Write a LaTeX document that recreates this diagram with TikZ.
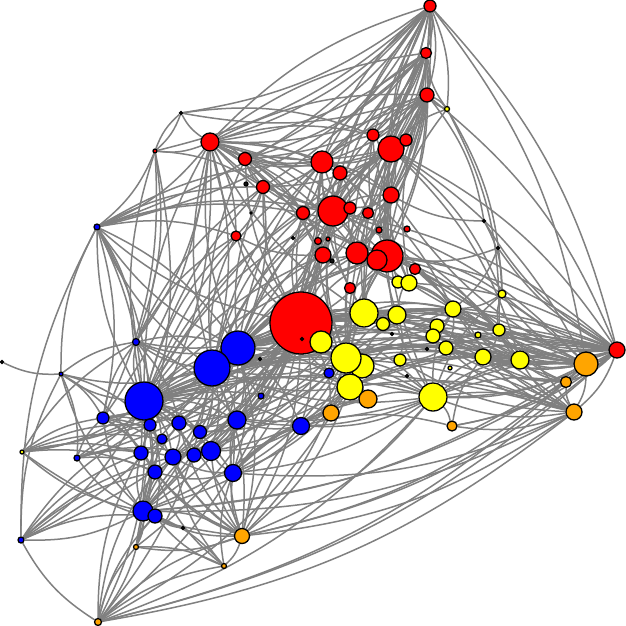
\documentclass[tikz,border=0pt]{standalone}
\usetikzlibrary{backgrounds}
\definecolor{nred}{RGB}{255,0,0}
\definecolor{nyel}{RGB}{255,255,0}
\definecolor{nblu}{RGB}{0,0,255}
\definecolor{nora}{RGB}{255,165,0}
\definecolor{ndrk}{RGB}{20,20,20}
\definecolor{egray}{RGB}{128,128,128}
\tikzset{
  vx/.style={circle, draw=black, line width=1.3pt, inner sep=0pt},
  edge/.style={draw=egray, line width=1.5pt},
}
\begin{document}
\begin{tikzpicture}[x=1pt,y=-1pt]
\useasboundingbox (0,0) rectangle (626,626);
% nodes: name/x/y/diameter/colour
\foreach \n/\x/\y/\d/\c in {
 r1/430/6/12/nred, r2/426/53/11/nred, r3/427/95/14/nred, r4/210/142/18/nred,
 r5/245/159/13/nred, r6/322/162/22/nred, r7/340/173/14/nred, r8/373/135/12/nred,
 r9/391/149/26/nred, r10/406/140/12/nred, r11/263/187/13/nred, r12/303/213/13/nred,
 r13/333/211/30/nred, r14/350/208/12/nred, r15/368/213/11/nred, r16/391/195/16/nred,
 r17/236/236/10/nred, r18/318/241/7/nred, r19/328/239/4/nred, r20/379/230/6/nred,
 r21/407/229/6/nred, r22/323/255/16/nred, r23/357/253/22/nred, r24/387/256/32/nred,
 r25/377/260/20/nred, r26/415/269/11/nred, r27/350/288/11/nred, r28/301/323/62/nred,
 r29/617/350/16/nred, r30/155/151/4/nred,
 d1/181/113/3/ndrk, d2/246/184/4/ndrk, d3/251/213/2/ndrk, d4/293/238/3/ndrk,
 d5/332/261/4/ndrk, d6/302/339/3/ndrk, d7/392/334/3/ndrk, d8/427/349/3/ndrk,
 d9/407/376/3/ndrk, d10/260/359/3/ndrk, d11/484/221/3/ndrk, d12/498/248/3/ndrk,
 d13/2/362/3/ndrk, d14/183/528/3/ndrk,
 y1/447/109/5/nyel, y2/398/282/12/nyel, y3/409/283/16/nyel, y4/502/294/8/nyel,
 y5/321/342/22/nyel, y6/364/313/28/nyel, y7/397/315/18/nyel, y8/383/324/13/nyel,
 y9/453/309/16/nyel, y10/437/326/14/nyel, y11/433/336/14/nyel, y12/446/348/14/nyel,
 y13/478/335/6/nyel, y14/499/330/12/nyel, y15/362/366/24/nyel, y16/346/358/30/nyel,
 y17/400/360/12/nyel, y18/483/357/16/nyel, y19/520/360/18/nyel, y20/450/368/4/nyel,
 y21/350/387/26/nyel, y22/433/397/28/nyel, y23/22/452/4/nyel,
 o1/368/399/18/nora, o2/331/413/16/nora, o3/452/426/10/nora, o4/586/364/24/nora,
 o5/566/382/11/nora, o6/574/412/16/nora, o7/242/536/15/nora, o8/136/547/5/nora,
 o9/224/566/5/nora, o10/98/622/7/nora,
 b1/97/227/6/nblu, b2/136/342/7/nblu, b3/238/348/34/nblu, b4/212/368/36/nblu,
 b5/144/401/38/nblu, b6/329/373/10/nblu, b7/261/396/6/nblu, b8/103/418/12/nblu,
 b9/150/425/12/nblu, b10/179/423/14/nblu, b11/200/432/13/nblu, b12/237/420/18/nblu,
 b13/301/426/17/nblu, b14/162/439/10/nblu, b15/141/453/14/nblu, b16/173/457/16/nblu,
 b17/194/455/14/nblu, b18/211/451/19/nblu, b19/155/472/14/nblu, b20/233/473/17/nblu,
 b21/143/511/20/nblu, b22/155/516/14/nblu, b23/77/458/6/nblu, b24/21/540/6/nblu,
 b25/61/374/4/nblu}
 \node[vx, fill=\c, minimum size=\d pt] (\n) at (\x,\y) {};
\begin{scope}[on background layer]
\fill[white] (0,0) rectangle (626,626);
\foreach \s/\ts in {
 r28/{b3,b4,b5,b8,b9,b10,b11,b12,b13,b15,b16,b17,b18,b19,b20,b21,b2,b1,r4,r5,r6,r11,r12,r13,r17,r22,r23,r24,r9,r1,r3,y6,y7,y9,y14,y19,y22,y21,r29,o4,o6,o7,o10,o2,o1,y18,y12,b24,b23,y23,o8},
 b5/{b3,b4,b8,b9,b10,b11,b12,b14,b15,b16,b17,b18,b19,b20,b21,b22,b2,b1,b23,b24,b25,y23,o10,o8,r4,r30,r6,r13,r17,r11,y16,y21,y22,y6,r29,o4,o6,o7,b13,o2,y19,r9,r24,r22,r12,y9,y12},
 b4/{b3,b8,b9,b10,b11,b12,b16,b17,b18,b20,b21,b2,b1,r4,r5,r13,r6,r24,y16,y6,y21,y22,r29,o4,o6,o7,o10,b25,y23,b24,r17,r12,r22,r9,y9,y7},
 b3/{b9,b10,b12,b13,b18,b20,b21,r4,r6,r13,r9,r24,y6,y16,y21,y22,y19,r29,o4,o7,b2,b1,r11,r16,r23,y10},
 y16/{y6,y7,y9,y12,y19,y22,r24,r13,r9,r6,r29,o4,o6,o5,b12,b13,b20,b21,o7,y14,y18,r3,r1,b4,b10,b16},
 y21/{y6,y7,y9,y19,y22,r24,r13,r29,o4,o6,b20,b21,o7,o10,y18,r16,b4,b18,b11},
 y6/{y7,y9,y10,y14,y19,r24,r9,r13,r6,r29,o4,r3,r2,b12,o6,b5,b4,b18,r4},
 y22/{y9,y19,y18,r29,o4,o5,o6,r24,r9,o3,b13,b20,o7,o10,y4,b4,b5,b12},
 r24/{r9,r13,r6,r16,r3,r2,r1,r4,r5,r10,r8,y9,y14,y19,r29,o4,o6,y4,y1,r27,r26,b3,b12},
 r13/{r4,r5,r6,r7,r9,r11,r12,r3,r1,r2,r8,r16,r22,r23,r29,o4,y9,y19,b21,b4,b3,b12,b18},
 r9/{r1,r2,r3,r4,r5,r6,r10,r8,r16,r11,y1,r29,o4,y19,y4,b3},
 r6/{r4,r5,r7,r11,r3,r1,r2,r8,r12,r16,b12,y9},
 r4/{r30,d1,r5,r11,r12,r17,r22,r23,r16,r7,r14,b1,b2,b8,b9,r1,r2,r3,r8,r13,b4},
 r1/{r2,r3,d1,r4,r6,r8,r9,r11,r16,r29,o4,y1,r23,r13,b1,r30,r5},
 r2/{r3,r4,r6,r9,r8,r13,r24,r16,r5,b1},
 r3/{r4,r5,r6,r8,r9,r10,r16,y1,r23,r25,r29,d11,d1,b3},
 r29/{o4,o5,o6,y19,y18,y14,y4,y9,y22,y12,o3,o10,o7,b21,d12,d11,y3,r26},
 o4/{o5,o6,y19,y18,y14,y13,y9,y12,y22,y4,r26,r16,o3,o10,b21,o7,y7,y10},
 o6/{o5,y19,y18,y22,o3,y9,y12,o10,b21,b20,o7,y17},
 o5/{y19,y18,y14,y12},
 b21/{b15,b16,b19,b22,b14,b24,b23,o10,o8,o9,o7,b25,b8,y23,b10,b12},
 o10/{b22,o7,o9,b19,b24,b15,o8},
 o7/{b16,b20,b18,b12,o9,b19,b15,b22,b14,o8,y23,b10,b13},
 b25/{d13,b1,b8,b15,b23,b2,b9},
 b1/{b2,b8,b15,r6,r17,r13,b9,r11,r12,b3},
 r30/{d1,b1,b2,b15,b8,r11},
 y23/{b8,b15,b9,b14,b19,b2},
 b24/{b15,b16,b19,b22,b1,b25,b9},
 b23/{b8,b9,b15,b16,b17,b19},
 b8/{b9,b10,b15,b16,b19,b2,b14},
 b2/{b9,b10,b12,r11,r17,b3},
 o8/{b16,b22,o9},
 o9/{b16,b19,b22,b20},
 b20/{b12,b13,b16,b18,b19,o2,o1},
 b13/{b12,b18,o2,o1,o3},
 b12/{b10,b11,b16,b17,b18},
 b10/{b14,b16,b11},
 y9/{y10,y11,y12,y14,y18,y19},
 y19/{y14,y18,y12,y13,y10},
 y7/{y8,y10,y17,r16,r26},
 y3/{r24,r23,r16,r9,r3,y9,r29},
 y2/{r23,r16,y9},
 r16/{r10,r8,r23,r14,r15},
 r23/{r22,r12,r14,r15,r25},
 r22/{r12,r17,r27},
 r11/{r5,r12,r17,b3},
 r5/{r7,r12},
 r7/{r14,r15,r12},
 y1/{r2,r3,y4,y14},
 d11/{y4,r16},
 d12/{y9,r24},
 d1/{r30,r8},
 o1/{y22},
 o2/{y21,o1},
 o3/{y18},
 y12/{y17,y13},
 y14/{y13,y4,y18},
 y4/{y9},
 d14/{b22},
 b6/{y16,r28},
 b7/{b3,r28},
 d10/{b3},
 y5/{y16,r13},
 y15/{y16,r29}}
 \foreach \t in \ts
  \draw[edge] (\s) to[bend left=14] (\t);
\end{scope}
\end{tikzpicture}
\end{document}
